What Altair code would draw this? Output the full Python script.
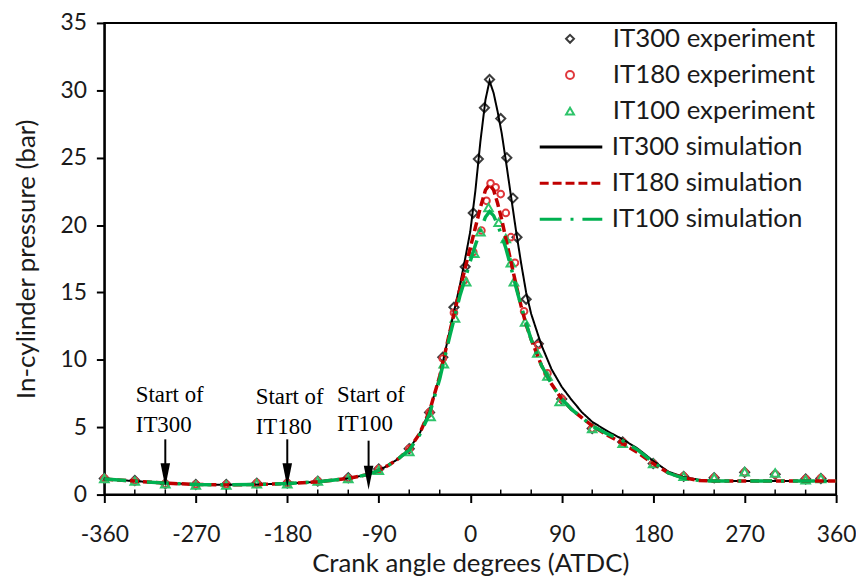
import altair as alt
import pandas as pd

# ---------------- data ----------------
exp_names = ["IT300 experiment", "IT180 experiment", "IT100 experiment"]
sim_names = ["IT300 simulation", "IT180 simulation", "IT100 simulation"]

sim_angle = [-360, -330, -300, -270, -240, -210, -180, -150, -120, -100, -90, -80, -70,
             -60, -50, -40, -30, -20, -10, -5, 0, 5, 10, 15, 19, 23, 27, 31, 35, 40,
             45, 50, 55, 60, 70, 80, 90, 100, 110, 120, 135, 150, 165, 180, 195, 210,
             225, 240, 270, 300, 330, 360]
sim_it300 = [1.15, 1.0, 0.85, 0.75, 0.72, 0.75, 0.82, 0.95, 1.2, 1.5, 1.8, 2.2, 2.7,
             3.4, 4.5, 6.2, 8.8, 12.2, 15.6, 17.5, 19.5, 22.5, 26.2, 29.3, 30.7, 29.8,
             28.4, 26.8, 24.8, 22.2, 19.6, 17.2, 15.0, 13.4, 11.1, 9.3, 8.0, 7.0, 6.1,
             5.4, 4.7, 4.1, 3.4, 2.5, 1.7, 1.3, 1.1, 1.0, 1.0, 1.0, 1.0, 1.0]
sim_it180 = [1.15, 1.0, 0.85, 0.75, 0.72, 0.75, 0.82, 0.95, 1.2, 1.5, 1.8, 2.2, 2.7,
             3.4, 4.5, 6.2, 8.8, 12.1, 15.3, 16.8, 18.3, 19.8, 21.3, 22.6, 23.0, 22.6,
             21.6, 20.4, 19.0, 17.3, 15.6, 14.0, 12.6, 11.5, 9.6, 8.2, 7.1, 6.3, 5.7,
             5.1, 4.4, 3.8, 3.1, 2.3, 1.6, 1.25, 1.05, 1.0, 1.0, 1.0, 1.0, 1.0]
sim_it100 = [1.15, 1.0, 0.85, 0.75, 0.72, 0.75, 0.82, 0.95, 1.2, 1.5, 1.8, 2.2, 2.7,
             3.3, 4.4, 6.0, 8.6, 11.8, 14.8, 16.0, 17.3, 18.5, 19.6, 20.6, 21.0, 20.7,
             20.0, 19.2, 18.3, 16.9, 15.4, 14.0, 12.7, 11.5, 9.6, 8.2, 7.1, 6.3, 5.7,
             5.1, 4.5, 4.0, 3.3, 2.4, 1.6, 1.2, 1.05, 1.0, 1.0, 1.0, 1.0, 1.0]

exp300_angle = [-360, -330, -300, -270, -240, -210, -180, -150, -120, -90, -60, -40, -27,
                -16, -5, 3, 8, 14, 19, 30, 36, 42, 46, 55, 67, 90, 120, 150, 180, 210,
                240, 270, 300, 330, 345]
exp300_p = [1.2, 1.05, 0.8, 0.75, 0.75, 0.85, 0.85, 1.0, 1.25, 1.9, 3.4, 6.1, 10.2,
            13.9, 16.9, 20.9, 24.9, 28.7, 30.8, 27.9, 25.0, 22.0, 19.1, 14.5, 11.2, 7.1,
            4.9, 3.9, 2.3, 1.35, 1.25, 1.65, 1.5, 1.15, 1.2]
exp180_angle = [-360, -330, -300, -270, -240, -210, -180, -150, -120, -90, -60, -40, -27,
                -16, -6, 3, 11, 16, 20, 25, 30, 35, 40, 44, 53, 67, 76, 90, 120, 150,
                180, 210, 240, 270, 300, 330, 345]
exp180_p = [1.2, 1.0, 0.8, 0.75, 0.75, 0.85, 0.85, 1.0, 1.2, 1.9, 3.4, 6.1, 10.1, 13.5,
            15.9, 18.0, 19.6, 21.8, 23.1, 22.8, 22.3, 20.9, 19.1, 17.2, 13.6, 11.1, 9.0,
            7.1, 4.9, 3.9, 2.3, 1.35, 1.25, 1.65, 1.5, 1.15, 1.2]
exp100_angle = [-360, -330, -300, -270, -240, -210, -180, -150, -120, -90, -60, -39, -26,
                -15, -4, 4, 10, 18, 28, 35, 40, 43, 54, 66, 76, 88, 120, 150, 180, 210,
                240, 270, 300, 330, 345]
exp100_p = [1.2, 1.0, 0.8, 0.7, 0.7, 0.8, 0.8, 1.0, 1.2, 1.8, 3.2, 5.8, 9.7, 13.1, 15.8,
            17.9, 19.5, 21.3, 20.2, 19.0, 17.2, 15.8, 12.8, 10.5, 8.8, 6.9, 4.9, 3.8,
            2.3, 1.35, 1.25, 1.7, 1.6, 1.1, 1.2]

x_ticks = [-360, -270, -180, -90, 0, 90, 180, 270, 360]
x_minor = [-330, -300, -240, -210, -150, -120, -60, -30, 30, 60, 120, 150, 210, 240, 300, 330]
y_ticks = [0, 5, 10, 15, 20, 25, 30, 35]
minor_len = 0.37   # inward minor tick length, in bar

ann_angle = [-329, -211, -131]
ann_line1 = ["Start of", "Start of", "Start of"]
ann_line2 = ["IT300", "IT180", "IT100"]
ann_y1 = [6.85, 6.7, 6.9]
ann_y2 = [4.65, 4.5, 4.7]
arrow_angle = [-300, -180, -100]
arrow_top = [4.1, 4.1, 4.0]
arrow_head = [1.45, 1.45, 1.25]

exp_colors = ["#3c3c3c", "#e0383c", "#2ec46a"]
sim_colors = ["#000000", "#c00000", "#00b050"]
exp_shapes = ["diamond", "circle", "triangle-up"]
exp_sizes = [85, 45, 75]
sim_dashes = [[1, 0], [9, 4], [22, 9, 3, 9]]
sim_widths = [2, 3.5, 3.5]

# ---------------- frames ----------------
sim_df = pd.DataFrame({
    "angle": sim_angle * 3,
    "p": sim_it300 + sim_it180 + sim_it100,
    "series": [sim_names[0]] * len(sim_angle) + [sim_names[1]] * len(sim_angle)
              + [sim_names[2]] * len(sim_angle),
})
exp_df = pd.DataFrame({
    "angle": exp300_angle + exp180_angle + exp100_angle,
    "p": exp300_p + exp180_p + exp100_p,
    "series": [exp_names[0]] * len(exp300_angle) + [exp_names[1]] * len(exp180_angle)
              + [exp_names[2]] * len(exp100_angle),
})
ann_df = pd.DataFrame({"angle": ann_angle * 2, "p": ann_y1 + ann_y2,
                       "text": ann_line1 + ann_line2})
arrow_df = pd.DataFrame({"angle": arrow_angle, "p": arrow_top, "p2": arrow_head})
minor_df = pd.DataFrame({"angle": x_minor, "p": [0] * len(x_minor),
                         "p2": [minor_len] * len(x_minor)})

FONT = "Lato"
x_scale = alt.Scale(domain=[-360, 360], nice=False, zero=False)
y_scale = alt.Scale(domain=[0, 35], nice=False)

x_axis = alt.Axis(orient="bottom", values=x_ticks, tickSize=8, tickWidth=2, tickColor="black",
                  domainColor="black", domainWidth=2, labelFont=FONT, labelFontSize=23,
                  labelColor="#1a1a1a", labelPadding=21, labelFlush=False, grid=False,
                  labelExpr="datum.value < 0 ? '-' + abs(datum.value) : '' + datum.value",
                  title="Crank angle degrees (ATDC)", titleFont=FONT, titleFontSize=26,
                  titleFontWeight="normal", titleColor="#1a1a1a", titleY=69,
                  titleBaseline="middle")
y_axis = alt.Axis(orient="left", values=y_ticks, tickSize=8, tickWidth=2, tickColor="black",
                  domainColor="black", domainWidth=2, labelFont=FONT, labelFontSize=23,
                  labelColor="#1a1a1a", labelPadding=10, grid=False,
                  title="In-cylinder pressure (bar)", titleFont=FONT, titleFontSize=26,
                  titleFontWeight="normal", titleColor="#1a1a1a", titleX=-78,
                  titleBaseline="middle")

exp_legend = alt.Legend(title=None, orient="none", legendX=456, legendY=-2, padding=0,
                        labelFont=FONT, labelFontSize=26, labelColor="#1a1a1a",
                        labelOffset=30, labelLimit=400, clipHeight=36, rowPadding=0.4,
                        symbolSize=64, symbolStrokeWidth=2, symbolFillColor="transparent")
sim_legend = alt.Legend(title=None, orient="none", legendX=437, legendY=107, padding=0,
                        labelFont=FONT, labelFontSize=26, labelColor="#1a1a1a",
                        labelOffset=8, labelLimit=400, clipHeight=36, rowPadding=0.4,
                        symbolSize=3969, symbolType="stroke", symbolStrokeWidth=3)

exp_stroke = alt.Stroke("series:N", scale=alt.Scale(domain=exp_names, range=exp_colors),
                        legend=exp_legend)
exp_shape = alt.Shape("series:N", scale=alt.Scale(domain=exp_names, range=exp_shapes),
                      legend=exp_legend)
sim_color = alt.Color("series:N", scale=alt.Scale(domain=sim_names, range=sim_colors),
                      legend=sim_legend)
sim_dash = alt.StrokeDash("series:N", scale=alt.Scale(domain=sim_names, range=sim_dashes),
                          legend=sim_legend)


def X(field="angle:Q"):
    return alt.X(field, scale=x_scale, axis=x_axis)


def Y(field="p:Q"):
    return alt.Y(field, scale=y_scale, axis=y_axis)


layers = []
for i, name in enumerate(exp_names):
    layers.append(
        alt.Chart(exp_df).transform_filter(alt.datum.series == name)
        .mark_point(filled=False, size=exp_sizes[i], strokeWidth=2, opacity=1)
        .encode(x=X(), y=Y(), stroke=exp_stroke, shape=exp_shape)
    )
for i, name in enumerate(sim_names):
    layers.append(
        alt.Chart(sim_df).transform_filter(alt.datum.series == name)
        .mark_line(strokeWidth=sim_widths[i])
        .encode(x=X(), y=Y(), color=sim_color, strokeDash=sim_dash, order="angle:Q")
    )

minor_layer = alt.Chart(minor_df).mark_rule(color="black", strokeWidth=1.5).encode(
    x=X(), y=Y(), y2="p2:Q")

text_layer = alt.Chart(ann_df).mark_text(
    font="Liberation Serif", fontSize=23, align="left", baseline="alphabetic", color="black"
).encode(x=X(), y=Y(), text="text:N")

shaft = alt.Chart(arrow_df).mark_rule(color="black", strokeWidth=2).encode(
    x=X(), y=Y(), y2="p2:Q")

head = alt.Chart(arrow_df).mark_point(
    shape="M-0.4,-1L0.4,-1L0,1Z", filled=True, size=576, color="black", opacity=1
).encode(x=X(), y=Y("p2:Q"))

chart = alt.layer(*layers, minor_layer, text_layer, shaft, head).properties(
    width=737, height=475,
    background="white",
    autosize=alt.AutoSizeParams(type="none"),
    padding={"left": 97, "top": 13, "right": 20, "bottom": 85},
).configure_view(stroke="black", strokeWidth=2)

chart.save("out.html", embed_options={"renderer": "svg", "actions": False})
